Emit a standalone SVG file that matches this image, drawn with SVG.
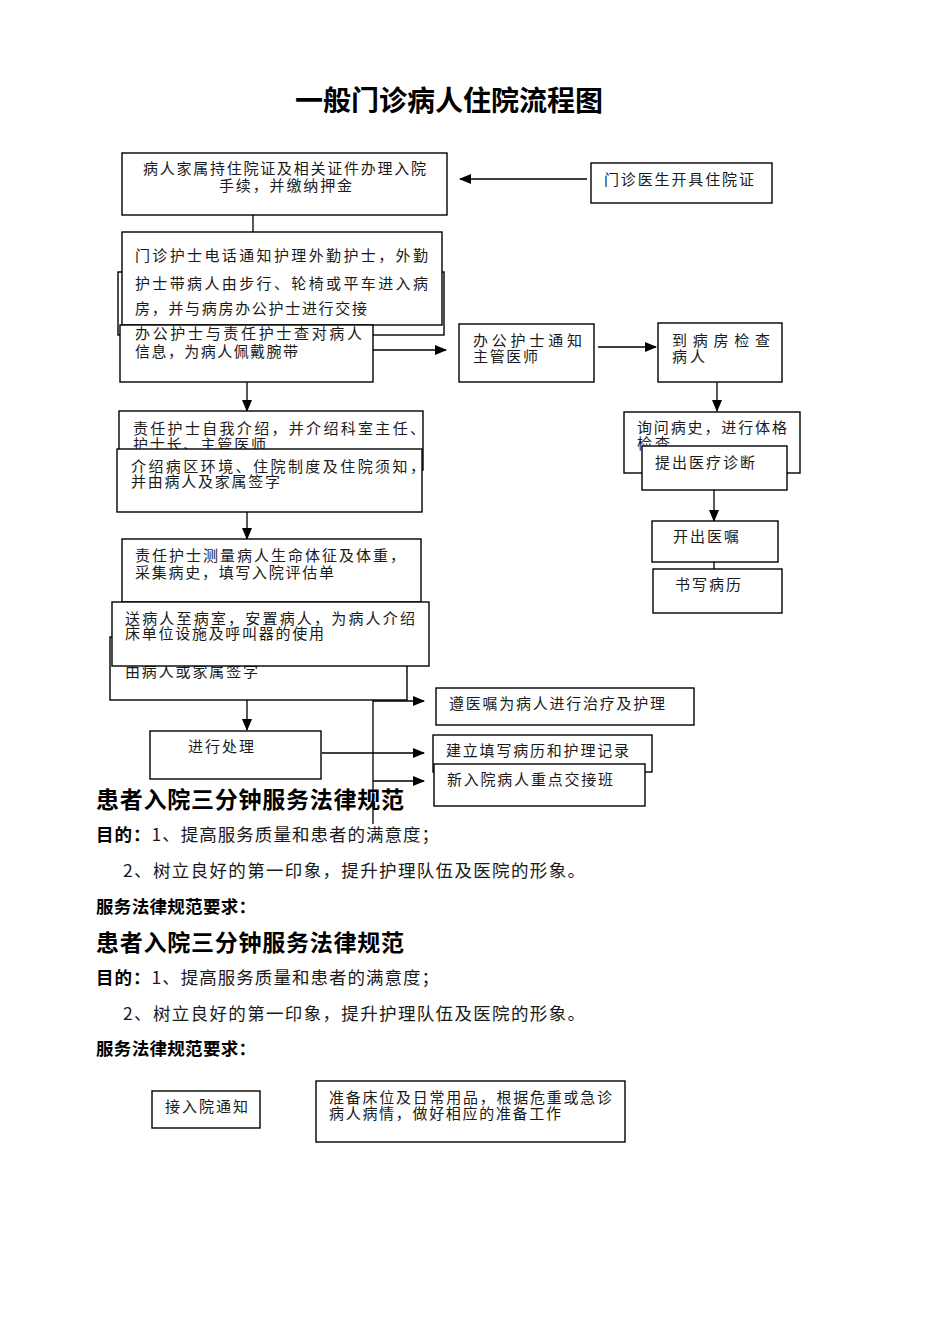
<svg xmlns="http://www.w3.org/2000/svg" width="950" height="1344" viewBox="0 0 950 1344">
<style>
.bx{fill:#fff;stroke:#000;stroke-width:1.4}
.ln{fill:none;stroke:#000;stroke-width:1.3}
.t{font-family:"Noto Sans CJK SC","Liberation Sans",sans-serif;font-size:15px;fill:#1a1a1a}
.title{font-family:"Noto Sans CJK SC","Liberation Sans",sans-serif;font-size:28px;font-weight:bold;fill:#000}
.h{font-family:"Noto Sans CJK SC","Liberation Sans",sans-serif;font-size:23px;font-weight:bold;fill:#000}
.p{font-family:"Noto Sans CJK SC","Liberation Sans",sans-serif;font-size:17.5px;fill:#1a1a1a}
.b{font-weight:bold;fill:#000}
</style>
<defs>
<marker id="ah" markerUnits="userSpaceOnUse" markerWidth="12" markerHeight="10" refX="11" refY="5" orient="auto">
<path d="M0,0 L12,5 L0,10 Z" fill="#000"/>
</marker>
</defs>
<rect width="950" height="1344" fill="#fff"/>
<text class="title" x="449" y="111" text-anchor="middle">一般门诊病人住院流程图</text>

<g id="connectors">
<line class="ln" x1="587" y1="179" x2="460" y2="179" marker-end="url(#ah)"/>
<line class="ln" x1="253" y1="215" x2="253" y2="232"/>
<line class="ln" x1="373" y1="350" x2="446" y2="350" marker-end="url(#ah)"/>
<line class="ln" x1="598" y1="347" x2="656" y2="347" marker-end="url(#ah)"/>
<line class="ln" x1="247" y1="382" x2="247" y2="411" marker-end="url(#ah)"/>
<line class="ln" x1="717" y1="382" x2="717" y2="411" marker-end="url(#ah)"/>
<line class="ln" x1="714" y1="490" x2="714" y2="521" marker-end="url(#ah)"/>
<line class="ln" x1="714" y1="562" x2="714" y2="569"/>
<line class="ln" x1="247" y1="512" x2="247" y2="539" marker-end="url(#ah)"/>
<line class="ln" x1="247" y1="700" x2="247" y2="730" marker-end="url(#ah)"/>
<line class="ln" x1="373" y1="700" x2="373" y2="824"/>
<line class="ln" x1="373" y1="701" x2="424" y2="701" marker-end="url(#ah)"/>
<line class="ln" x1="322" y1="753" x2="424" y2="753" marker-end="url(#ah)"/>
<line class="ln" x1="373" y1="781" x2="424" y2="781" marker-end="url(#ah)"/>
</g>

<g id="n-doctor">
<rect class="bx" x="591" y="163" width="181" height="40"/>
<text class="t" x="604" y="185" textLength="150" lengthAdjust="spacing">门诊医生开具住院证</text>
</g>
<g id="n-family">
<rect class="bx" x="122" y="153" width="325" height="62"/>
<text class="t" x="143" y="174" textLength="283" lengthAdjust="spacing">病人家属持住院证及相关证件办理入院</text>
<text class="t" x="219" y="191" textLength="133" lengthAdjust="spacing">手续，并缴纳押金</text>
</g>
<g id="n-hidden">
<rect class="bx" x="118" y="272" width="326" height="63"/>
</g>
<g id="n-outnurse">
<rect class="bx" x="122" y="232" width="320" height="93"/>
<text class="t" x="135" y="261" textLength="293" lengthAdjust="spacing">门诊护士电话通知护理外勤护士，外勤</text>
<text class="t" x="135" y="289" textLength="293" lengthAdjust="spacing">护士带病人由步行、轮椅或平车进入病</text>
<text class="t" x="135" y="314" textLength="232" lengthAdjust="spacing">房，并与病房办公护士进行交接</text>
</g>
<g id="n-check">
<rect class="bx" x="120" y="325" width="253" height="57"/>
<text class="t" x="135" y="339" textLength="227" lengthAdjust="spacing">办公护士与责任护士查对病人</text>
<text class="t" x="135" y="357" textLength="163" lengthAdjust="spacing">信息，为病人佩戴腕带</text>
</g>
<g id="n-notify">
<rect class="bx" x="459" y="324" width="135" height="58"/>
<text class="t" x="473" y="346" textLength="109" lengthAdjust="spacing">办公护士通知</text>
<text class="t" x="473" y="362" textLength="65" lengthAdjust="spacing">主管医师</text>
</g>
<g id="n-ward">
<rect class="bx" x="658" y="323" width="124" height="59"/>
<text class="t" x="672" y="346" textLength="98" lengthAdjust="spacing">到病房检查</text>
<text class="t" x="672" y="362" textLength="33" lengthAdjust="spacing">病人</text>
</g>
<g id="n-history">
<rect class="bx" x="624" y="412" width="176" height="61"/>
<text class="t" x="637" y="433" textLength="150" lengthAdjust="spacing">询问病史，进行体格</text>
<text class="t" x="637" y="449" textLength="33" lengthAdjust="spacing">检查</text>
</g>
<g id="n-diag">
<rect class="bx" x="642" y="446" width="145" height="44"/>
<text class="t" x="655" y="468" textLength="100" lengthAdjust="spacing">提出医疗诊断</text>
</g>
<g id="n-order">
<rect class="bx" x="652" y="521" width="126" height="41"/>
<text class="t" x="673" y="542" textLength="66" lengthAdjust="spacing">开出医嘱</text>
</g>
<g id="n-record">
<rect class="bx" x="653" y="569" width="129" height="44"/>
<text class="t" x="675" y="590" textLength="66" lengthAdjust="spacing">书写病历</text>
</g>
<g id="n-intro">
<rect class="bx" x="119" y="411" width="304" height="59"/>
<text class="t" x="133" y="434" textLength="292" lengthAdjust="spacing">责任护士自我介绍，并介绍科室主任、</text>
<text class="t" x="133" y="450" textLength="133" lengthAdjust="spacing">护士长、主管医师</text>
</g>
<g id="n-env">
<rect class="bx" x="117" y="449" width="305" height="63"/>
<text class="t" x="131" y="472" textLength="294" lengthAdjust="spacing">介绍病区环境、住院制度及住院须知，</text>
<text class="t" x="131" y="487" textLength="149" lengthAdjust="spacing">并由病人及家属签字</text>
</g>
<g id="n-measure">
<rect class="bx" x="122" y="539" width="299" height="63"/>
<text class="t" x="135" y="561" textLength="270" lengthAdjust="spacing">责任护士测量病人生命体征及体重，</text>
<text class="t" x="135" y="578" textLength="199" lengthAdjust="spacing">采集病史，填写入院评估单</text>
</g>
<g id="n-sign">
<rect class="bx" x="110" y="637" width="297" height="63"/>
<text class="t" x="125" y="677" textLength="133" lengthAdjust="spacing">由病人或家属签字</text>
</g>
<g id="n-room">
<rect class="bx" x="112" y="602" width="317" height="64"/>
<text class="t" x="125" y="624" textLength="290" lengthAdjust="spacing">送病人至病室，安置病人，为病人介绍</text>
<text class="t" x="125" y="639" textLength="199" lengthAdjust="spacing">床单位设施及呼叫器的使用</text>
</g>
<g id="n-process">
<rect class="bx" x="150" y="731" width="171" height="48"/>
<text class="t" x="188" y="752" textLength="66" lengthAdjust="spacing">进行处理</text>
</g>
<g id="n-treat">
<rect class="bx" x="436" y="688" width="258" height="37"/>
<text class="t" x="449" y="709" textLength="216" lengthAdjust="spacing">遵医嘱为病人进行治疗及护理</text>
</g>
<g id="n-build">
<rect class="bx" x="433" y="735" width="219" height="37"/>
<text class="t" x="446" y="756" textLength="183" lengthAdjust="spacing">建立填写病历和护理记录</text>
</g>
<g id="n-handover">
<rect class="bx" x="434" y="764" width="211" height="42"/>
<text class="t" x="447" y="785" textLength="166" lengthAdjust="spacing">新入院病人重点交接班</text>
</g>

<text class="h" x="96" y="808" textLength="308" lengthAdjust="spacing">患者入院三分钟服务法律规范</text>
<text class="p" x="96" y="841" textLength="343" lengthAdjust="spacing"><tspan class="b">目的：</tspan>1、提高服务质量和患者的满意度；</text>
<text class="p" x="123" y="877" textLength="462" lengthAdjust="spacing">2、树立良好的第一印象，提升护理队伍及医院的形象。</text>
<text class="p b" x="96" y="913" textLength="160" lengthAdjust="spacing">服务法律规范要求：</text>

<text class="h" x="96" y="951" textLength="308" lengthAdjust="spacing">患者入院三分钟服务法律规范</text>
<text class="p" x="96" y="984" textLength="343" lengthAdjust="spacing"><tspan class="b">目的：</tspan>1、提高服务质量和患者的满意度；</text>
<text class="p" x="123" y="1020" textLength="462" lengthAdjust="spacing">2、树立良好的第一印象，提升护理队伍及医院的形象。</text>
<text class="p b" x="96" y="1055" textLength="160" lengthAdjust="spacing">服务法律规范要求：</text>

<g id="n-receive">
<rect class="bx" x="152" y="1091" width="108" height="37"/>
<text class="t" x="165" y="1112" textLength="83" lengthAdjust="spacing">接入院通知</text>
</g>
<g id="n-prepare">
<rect class="bx" x="316" y="1081" width="309" height="61"/>
<text class="t" x="329" y="1103" textLength="283" lengthAdjust="spacing">准备床位及日常用品，根据危重或急诊</text>
<text class="t" x="329" y="1119" textLength="232" lengthAdjust="spacing">病人病情，做好相应的准备工作</text>
</g>
</svg>
